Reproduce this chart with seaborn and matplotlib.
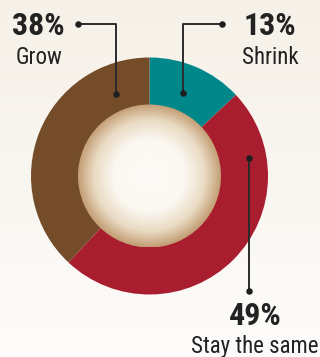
import numpy as np
import matplotlib
matplotlib.use("Agg")
import matplotlib.pyplot as plt
from matplotlib.colors import LinearSegmentedColormap
from matplotlib.patches import Circle
import seaborn as sns

# Survey result: share of respondents expecting each outcome
labels = ["Shrink", "Stay the same", "Grow"]
shares = [13, 49, 38]
pct_labels = ["13%", "49%", "38%"]
colors = ["#00878a", "#a91e2f", "#744c29"]

sns.set_theme(style="white")
plt.rcParams["font.family"] = ["Roboto Condensed", "DejaVu Sans"]

W, H = 320, 357
fig = plt.figure(figsize=(W / 100, H / 100), dpi=100)
ax = fig.add_axes([0, 0, 1, 1])

# soft cream background, warmer at the top
bg = LinearSegmentedColormap.from_list("bg", ["#fdfcfa", "#f6f1e8"])
grad = np.linspace(0, 1, 256).reshape(-1, 1)
ax.imshow(grad, cmap=bg, extent=(0, W, 0, H), origin="lower",
          aspect="auto", zorder=0)

cx, cy = 149.5, H - 176
r_out, r_in = 118.5, 71.5

ax.pie(shares, colors=colors, startangle=90, counterclock=False,
       center=(cx, cy), radius=r_out,
       wedgeprops=dict(width=r_out - r_in + 1, linewidth=0),
       frame=True)
ax.set_xlim(0, W)
ax.set_ylim(0, H)
ax.set_aspect("equal")
ax.axis("off")

# radial gradient in the hole
n = 300
xs = np.linspace(-1, 1, n)
X, Y = np.meshgrid(xs, xs)
R = np.sqrt(X ** 2 + Y ** 2)
hole = LinearSegmentedColormap.from_list(
    "hole", [(0, "#fdfbf7"), (0.5, "#fbf8f2"), (0.78, "#eadbc3"), (1.0, "#c39f76")])
img = ax.imshow(np.clip(R, 0, 1), cmap=hole, vmin=0, vmax=1,
                extent=(cx - r_in, cx + r_in, cy - r_in, cy + r_in),
                origin="lower", zorder=3, interpolation="bilinear")
clip = Circle((cx, cy), r_in, transform=ax.transData)
img.set_clip_path(clip)

line_kw = dict(color="#2b2b2b", lw=1.4, zorder=5, solid_capstyle="butt")
dot_kw = dict(color="#1e1e1e", s=22, zorder=6, linewidths=0)

def yy(v):
    return H - v

# Grow callout
ax.plot([78, 116, 116], [yy(24), yy(24), yy(94)], **line_kw)
ax.scatter([78, 116], [yy(24), yy(94)], **dot_kw)
# Shrink callout
ax.plot([222, 183, 183], [yy(24), yy(24), yy(93)], **line_kw)
ax.scatter([222, 183], [yy(24), yy(93)], **dot_kw)
# Stay the same callout
ax.plot([249, 249], [yy(158), yy(291)], **line_kw)
ax.scatter([249, 249], [yy(158), yy(291)], **dot_kw)

txt = "#222222"
big = dict(fontsize=23, fontweight="bold", color=txt, ha="center", va="baseline", zorder=7)
small = dict(fontsize=16.5, color=txt, ha="center", va="baseline", zorder=7)

ax.text(38.5, yy(35), pct_labels[2], **big)
ax.text(39, yy(64), labels[2], **small)
ax.text(270, yy(35), pct_labels[0], **big)
ax.text(270, yy(64), labels[0], **small)
ax.text(255, yy(325), pct_labels[1], **big)
ax.text(254.5, yy(353), labels[1], **small)

fig.savefig("out.png", dpi=100)
